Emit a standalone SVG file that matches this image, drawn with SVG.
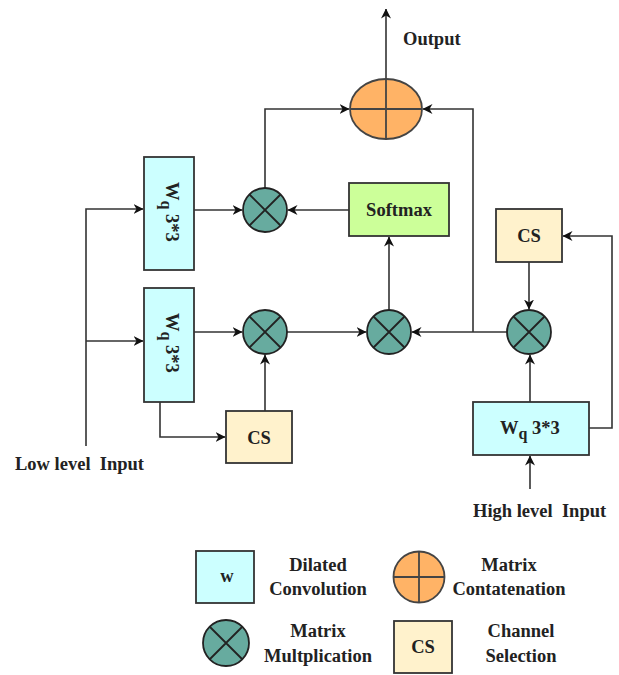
<svg xmlns="http://www.w3.org/2000/svg" width="619" height="675" viewBox="0 0 619 675">
<style>
.t{font-family:"Liberation Serif","Times New Roman",serif;font-weight:bold;font-size:18.5px;fill:#222;white-space:pre}
.m{text-anchor:middle}
.conv{fill:#ccffff;stroke:#333;stroke-width:1.8}
.cs{fill:#fff2cc;stroke:#333;stroke-width:1.8}
.soft{fill:#ccff99;stroke:#333;stroke-width:1.8}
.mul{fill:#67ab9f;stroke:#222;stroke-width:1.8}
.cat{fill:#ffb366;stroke:#444;stroke-width:1.8}
.x{stroke:#222;stroke-width:1.8;fill:none}
.e{fill:none;stroke:#333;stroke-width:1.6}
</style>
<defs>
<marker id="a" viewBox="0 0 10 10" refX="9.5" refY="5" markerWidth="10" markerHeight="10" markerUnits="userSpaceOnUse" orient="auto">
<path d="M0,0 L10,5 L0,10 L3,5 z" fill="#111"/>
</marker>
<g id="mulsym"><circle r="22" class="mul"/><path class="x" d="M-15.5,-15.5 L15.5,15.5 M15.5,-15.5 L-15.5,15.5"/></g>
</defs>

<g id="connectors">
<path class="e" d="M86,446 V209 H143" marker-end="url(#a)"/>
<path class="e" d="M86,341 H143" marker-end="url(#a)"/>
<path class="e" d="M194,210 H242" marker-end="url(#a)"/>
<path class="e" d="M194,332 H242" marker-end="url(#a)"/>
<path class="e" d="M160,402 V437 H225" marker-end="url(#a)"/>
<path class="e" d="M265,411 V355" marker-end="url(#a)"/>
<path class="e" d="M265,188 V109 H349" marker-end="url(#a)"/>
<path class="e" d="M349,210 H288" marker-end="url(#a)"/>
<path class="e" d="M287,332 H366" marker-end="url(#a)"/>
<path class="e" d="M389,310 V237" marker-end="url(#a)"/>
<path class="e" d="M386,79 V9" marker-end="url(#a)"/>
<path class="e" d="M473,332 V109 H423" marker-end="url(#a)"/>
<path class="e" d="M507,332 H412" marker-end="url(#a)"/>
<path class="e" d="M529,262 V309" marker-end="url(#a)"/>
<path class="e" d="M530,402 V355" marker-end="url(#a)"/>
<path class="e" d="M589,428 H612 V236 H563" marker-end="url(#a)"/>
<path class="e" d="M530,489 V456" marker-end="url(#a)"/>
</g>

<g id="w1">
<rect x="144" y="157" width="50" height="113" class="conv"/>
<text class="t" transform="translate(166,182) rotate(90)">W<tspan font-size="16" dy="5">q</tspan><tspan dy="-5"> 3*3</tspan></text>
</g>
<g id="w2">
<rect x="144" y="288" width="50" height="114" class="conv"/>
<text class="t" transform="translate(166,313) rotate(90)">W<tspan font-size="16" dy="5">q</tspan><tspan dy="-5"> 3*3</tspan></text>
</g>
<g id="w3">
<rect x="473" y="402" width="116" height="53" class="conv"/>
<text class="t" x="500" y="434">W<tspan font-size="16" dy="5">q</tspan><tspan dy="-5"> 3*3</tspan></text>
</g>
<g id="cs1">
<rect x="226" y="411" width="66" height="52" class="cs"/>
<text class="t m" x="259" y="444">CS</text>
</g>
<g id="cs2">
<rect x="496" y="209" width="66" height="53" class="cs"/>
<text class="t m" x="529" y="242">CS</text>
</g>
<g id="softmax">
<rect x="349" y="183" width="100" height="53" class="soft"/>
<text class="t m" x="399" y="216">Softmax</text>
</g>
<g id="mul1"><use href="#mulsym" x="265" y="210"/></g>
<g id="mul2"><use href="#mulsym" x="265" y="332"/></g>
<g id="mul3"><use href="#mulsym" x="389" y="332"/></g>
<g id="mul4"><use href="#mulsym" x="529" y="332"/></g>
<g id="concat">
<ellipse cx="386" cy="109" rx="36" ry="30" class="cat"/>
<path d="M350,109 H422 M386,79 V139" stroke="#444" stroke-width="1.8"/>
</g>
<g id="labels">
<text class="t" x="403" y="45">Output</text>
<text class="t" x="15" y="470" xml:space="preserve">Low level  Input</text>
<text class="t" x="473" y="517" xml:space="preserve">High level  Input</text>
</g>

<g id="legend">
<rect x="196" y="551" width="58" height="52" class="conv"/>
<text class="t m" x="227" y="582" font-size="13">w</text>
<text class="t m" x="318" y="571">Dilated</text>
<text class="t m" x="318" y="595">Convolution</text>
<circle cx="419" cy="577" r="25.5" class="cat"/>
<path d="M393.5,577 H444.5 M419,551.5 V602.5" stroke="#444" stroke-width="1.8"/>
<text class="t m" x="509" y="571">Matrix</text>
<text class="t m" x="509" y="595">Contatenation</text>
<g transform="translate(226,643)"><circle r="23" class="mul"/><path class="x" d="M-16,-16 L16,16 M16,-16 L-16,16"/></g>
<text class="t m" x="318" y="637">Matrix</text>
<text class="t m" x="318" y="662">Multplication</text>
<rect x="394" y="621" width="58" height="52" class="cs"/>
<text class="t m" x="423" y="653" font-size="16">CS</text>
<text class="t m" x="521" y="637">Channel</text>
<text class="t m" x="521" y="662">Selection</text>
</g>
</svg>
